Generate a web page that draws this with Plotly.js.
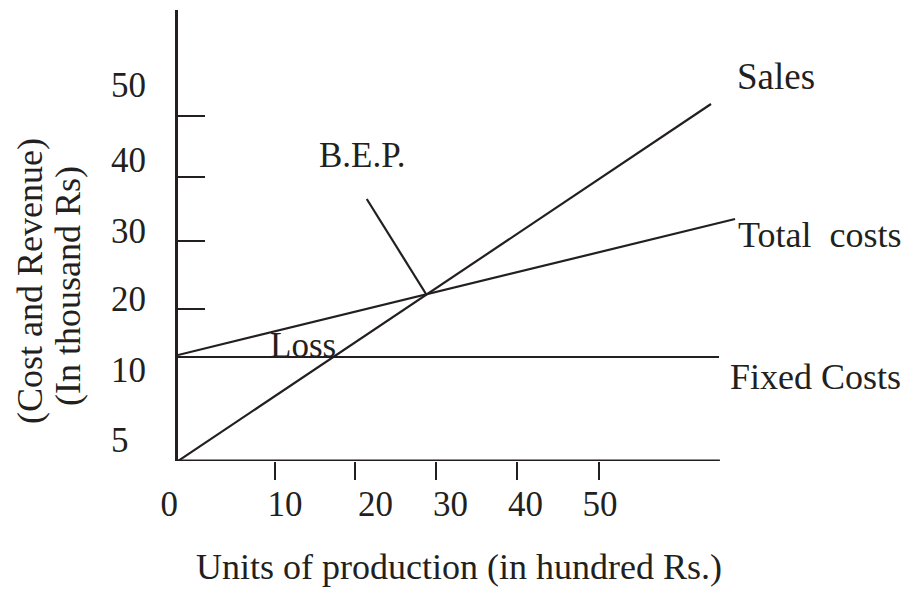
<!DOCTYPE html>
<html>
<head>
<meta charset="utf-8">
<script src="https://cdn.plot.ly/plotly-3.0.1.min.js"></script>
<style>html,body{margin:0;padding:0;background:#fff;}#chart{width:910px;height:594px;}</style>
</head>
<body>
<div id="chart"></div>
<script>
// ---- data (units of the drawn frame) ----
const salesX = [0, 65.8];
const salesY = [0, 51.0];
const totalX = [0, 68.77];
const totalY = [15.14, 34.57];
const fixedX = [0, 66.79];
const fixedY = [14.86, 14.86];
const bepLeaderX = [23.3, 30.62];
const bepLeaderY = [37.43, 23.86];

// axis tick marks and labels as drawn
const xTickPos = [11.98, 21.85, 31.85, 41.85, 51.98];
const xLabelPos = [0, 13.21, 24.38, 33.64, 42.90, 52.10];
const xLabelText = ['0\u00a0\u00a0', '10', '20', '30', '40', '50'];
const yTickPos = [21.71, 31.43, 40.57, 49.29];
const yLabelPos = [3.0, 13.0, 23.14, 32.86, 43.0, 53.71];
const yLabelText = ['5\u00a0\u00a0', '10', '20', '30', '40', '50'];

const xRange = [0, 69.38];
const yRange = [0, 64.43];
const xAxisEnd = 66.9;

const lossPos = [15.43, 16.43];

const ink = '#231f20';
const fontFam = '"Liberation Serif", "Times New Roman", serif';
const fs = 35;
const fsLab = 36;

function seg(x, y) {
  return {x: x, y: y, mode: 'lines', type: 'scatter', line: {color: ink, width: 2.2},
          hoverinfo: 'skip', showlegend: false, xaxis: 'x', yaxis: 'y'};
}

const traces = [
  seg(fixedX, fixedY),
  seg(totalX, totalY),
  seg(salesX, salesY),
  seg(bepLeaderX, bepLeaderY),
  {x: [], y: [], type: 'scatter', mode: 'lines', xaxis: 'x2', yaxis: 'y2', showlegend: false, hoverinfo: 'skip'}
];

const layout = {
  width: 910, height: 594,
  margin: {l: 178, r: 170, t: 10, b: 133},
  paper_bgcolor: '#fff', plot_bgcolor: '#fff',
  font: {family: fontFam, size: fs, color: ink},
  showlegend: false,
  xaxis: {
    range: xRange, showgrid: false, zeroline: false, showline: false,
    tickmode: 'array', tickvals: xTickPos, ticks: 'outside', ticklen: 18, tickwidth: 2.5, tickcolor: ink,
    showticklabels: false, fixedrange: true
  },
  xaxis2: {
    overlaying: 'x', anchor: 'y', side: 'bottom', range: xRange,
    showgrid: false, zeroline: false, showline: false, ticks: '',
    tickmode: 'array', tickvals: xLabelPos, ticktext: xLabelText,
    tickfont: {family: fontFam, size: fs, color: ink}, ticklabelstandoff: 19,
    title: {text: 'Units of production (in hundred Rs.)', font: {family: fontFam, size: fsLab, color: ink}, standoff: 30}
  },
  yaxis: {
    range: yRange, showgrid: false, zeroline: false, showline: true, linewidth: 3, linecolor: ink,
    tickmode: 'array', tickvals: yTickPos, ticks: 'inside', ticklen: 27, tickwidth: 2.5, tickcolor: ink,
    showticklabels: false, fixedrange: true
  },
  yaxis2: {
    overlaying: 'y', anchor: 'x', side: 'left', range: yRange,
    showgrid: false, zeroline: false, showline: false, ticks: '',
    tickmode: 'array', tickvals: yLabelPos, ticktext: yLabelText,
    tickfont: {family: fontFam, size: fs, color: ink}, ticklabelstandoff: 31
  },
  shapes: [
    {type: 'line', xref: 'x', yref: 'y', x0: 0, x1: xAxisEnd, y0: 0, y1: 0, line: {color: ink, width: 3}, layer: 'above'}
  ],
  annotations: [
    {text: 'Sales', x: salesX[1], y: salesY[1], xref: 'x', yref: 'y', showarrow: false, font: {size: 37},
     xanchor: 'left', yanchor: 'middle', xshift: 24, yshift: 28},
    {text: 'Total\u00a0 costs', x: totalX[1], y: totalY[1], xref: 'x', yref: 'y', showarrow: false, font: {size: fsLab},
     xanchor: 'left', yanchor: 'middle', xshift: 1, yshift: -16},
    {text: 'Fixed Costs', x: fixedX[1], y: fixedY[1], xref: 'x', yref: 'y', showarrow: false, font: {size: fsLab},
     xanchor: 'left', yanchor: 'middle', xshift: 9, yshift: -20},
    {text: 'B.E.P.', x: bepLeaderX[0], y: bepLeaderY[0], xref: 'x', yref: 'y', showarrow: false,
     xanchor: 'center', yanchor: 'middle', xshift: -4, yshift: 44},
    {text: 'Loss', x: lossPos[0], y: lossPos[1], xref: 'x', yref: 'y', showarrow: false,
     xanchor: 'center', yanchor: 'middle'},
    {text: '(Cost and Revenue)', xref: 'paper', yref: 'paper', x: 0, y: 0.399, xshift: -148,
     showarrow: false, textangle: -90, xanchor: 'center', yanchor: 'middle', font: {size: fsLab}},
    {text: '(In thousand Rs)', xref: 'paper', yref: 'paper', x: 0, y: 0.388, xshift: -110,
     showarrow: false, textangle: -90, xanchor: 'center', yanchor: 'middle', font: {size: fsLab}}
  ]
};

Plotly.newPlot('chart', traces, layout, {displayModeBar: false, staticPlot: true});
</script>
</body>
</html>
